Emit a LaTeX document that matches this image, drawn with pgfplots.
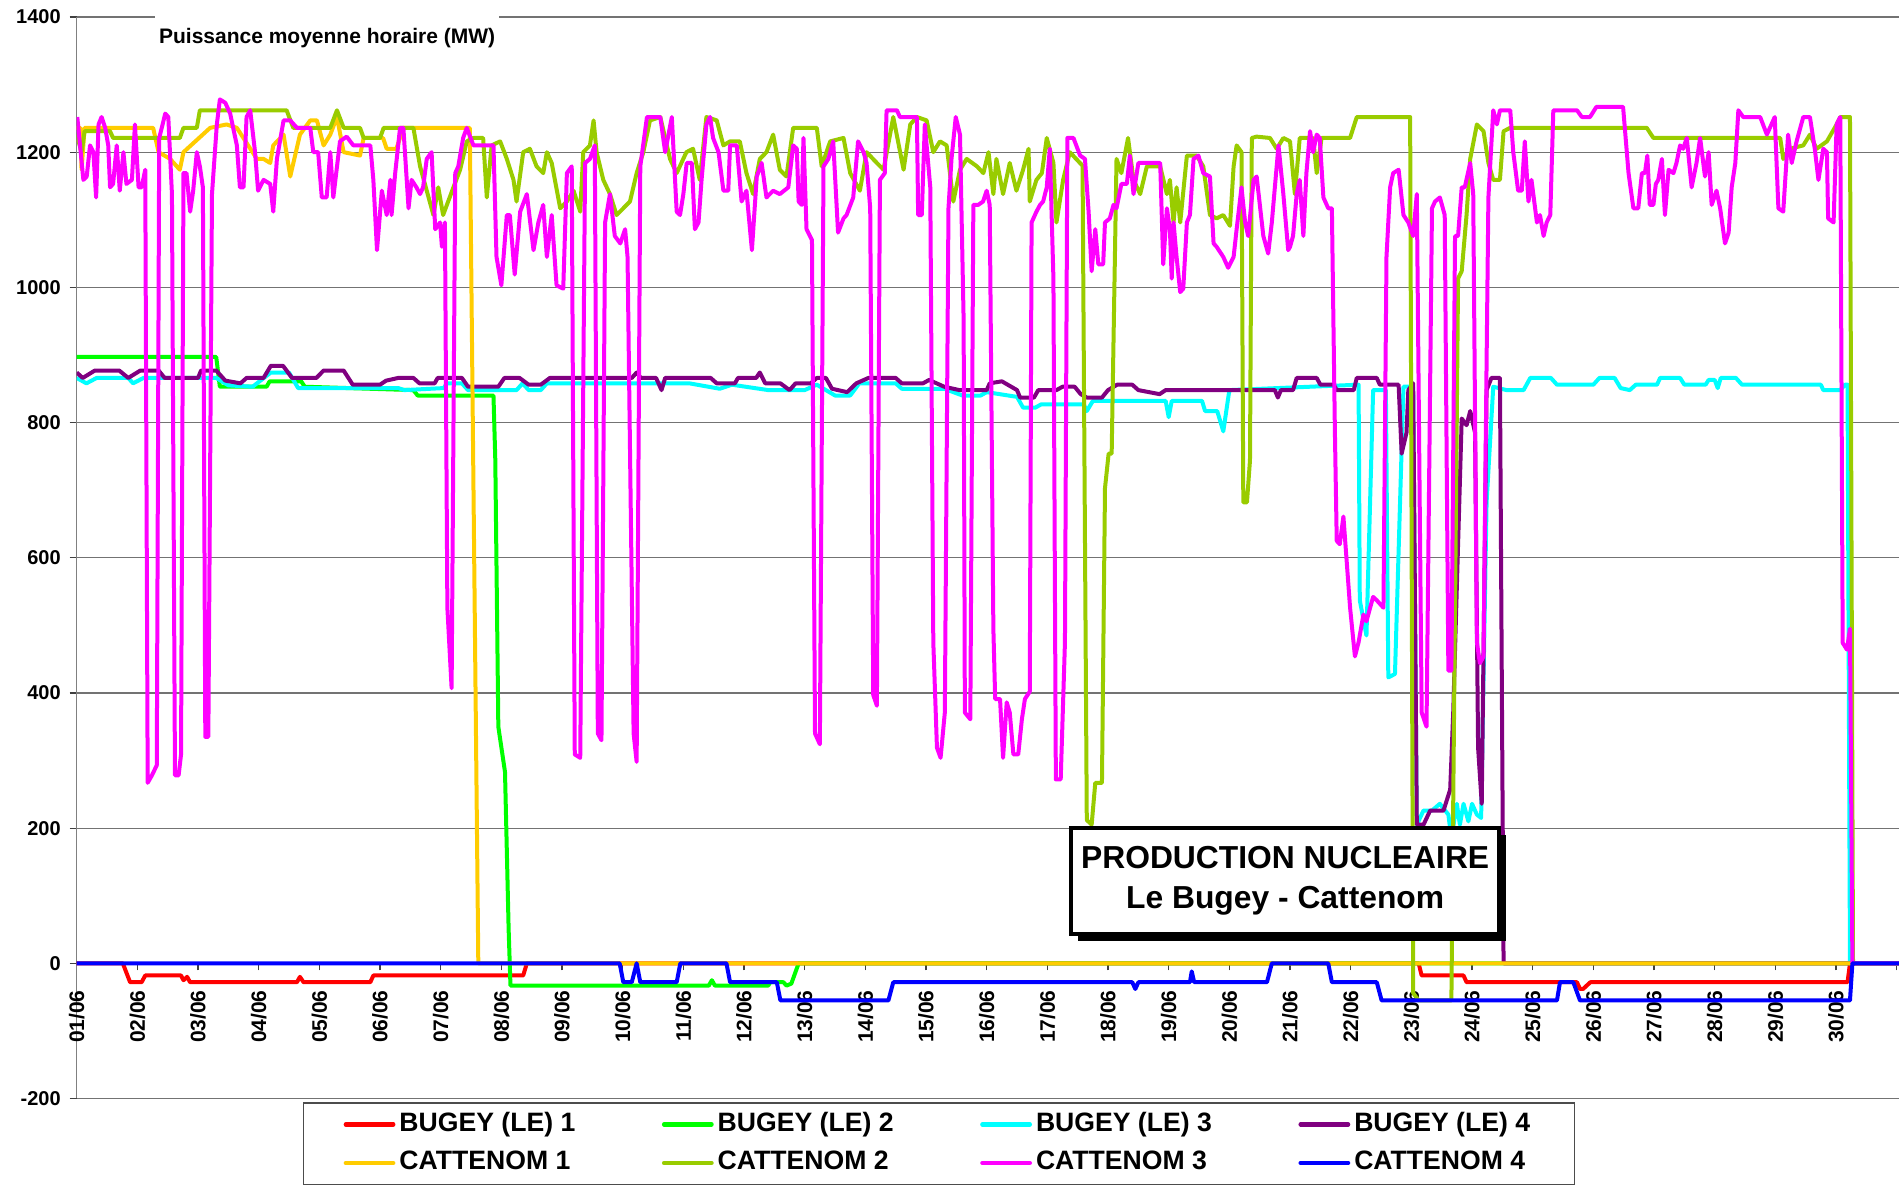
\documentclass[border=0pt]{standalone}
\usepackage{fontspec}
\setmainfont{Liberation Sans}
\usepackage{pgfplots}
\pgfplotsset{compat=1.18}
\usetikzlibrary{shadows}

\definecolor{cRed}{HTML}{FF0000}
\definecolor{cGreen}{HTML}{00FF00}
\definecolor{cCyan}{HTML}{00FFFF}
\definecolor{cPurple}{HTML}{800080}
\definecolor{cYellow}{HTML}{FFCC00}
\definecolor{cOlive}{HTML}{99CC00}
\definecolor{cMagenta}{HTML}{FF00FF}
\definecolor{cBlue}{HTML}{0000FF}

\begin{document}
\begin{tikzpicture}
\useasboundingbox (-38.35pt,-44.25pt) rectangle (911.15pt,549.25pt);
\begin{axis}[
  at={(0,0)}, anchor=south west,
  scale only axis, width=911.2pt, height=540.75pt,
  xmin=0, xmax=30.04, ymin=-200, ymax=1400,
  axis x line*=middle, axis y line*=left,
  hide obscured x ticks=false, hide obscured y ticks=false,
  clip mode=individual,
  ytick={-200,0,...,1400},
  yticklabels={-200,0,200,400,600,800,1000,1200,1400},
  xtick={0,...,30},
  xticklabels={01/06,02/06,03/06,04/06,05/06,06/06,07/06,08/06,09/06,10/06,
    11/06,12/06,13/06,14/06,15/06,16/06,17/06,18/06,19/06,20/06,
    21/06,22/06,23/06,24/06,25/06,26/06,27/06,28/06,29/06,30/06,{}},
  ymajorgrids, grid style={black!55, line width=0.6pt},
  tick align=outside, major tick length=3.5pt,
  tick style={black!75, line width=0.6pt},
  y axis line style={black!50, line width=0.8pt},
  x axis line style={black!75, line width=0.6pt},
  xticklabel shift=6.5pt,
  yticklabel shift=1pt,
  xticklabel style={rotate=90, anchor=east, font=\bfseries\fontsize{10.5}{12}\selectfont},
  yticklabel style={font=\bfseries\fontsize{10}{12}\selectfont},
  legend columns=4,
  legend cell align=left,
  legend image code/.code={\draw[#1, line width=2.2pt, line cap=round] (0pt,0pt) -- (23.7pt,0pt);},
  legend style={at={(axis description cs:0.1242,-0.0037)}, anchor=north west,
    draw=black!70, line width=0.6pt, inner xsep=20pt, inner ysep=2.5pt,
    font=\bfseries\fontsize{13.3}{15}\selectfont,
    nodes={inner sep=2pt, text height=9.5pt, text depth=2.8pt},
    row sep=3pt,
    /tikz/every even column/.append style={column sep=41.3pt}},
  every axis plot/.append style={line width=2pt, line join=round, mark=none},
]

% BUGEY (LE) 1
\addplot[cRed] coordinates {
(0,0) (0.76,0) (0.88,-28) (1.07,-28) (1.13,-18) (1.72,-18) (1.76,-25) (1.82,-20)
(1.87,-28) (3.63,-28) (3.68,-20) (3.74,-28) (4.84,-28) (4.89,-18) (7.36,-18)
(7.42,0) (22.12,0) (22.17,-18) (22.86,-18) (22.91,-28) (24.73,-28) (24.78,-38)
(24.83,-38) (24.95,-28) (29.19,-28) (29.23,0) (30.04,0)
};

% BUGEY (LE) 2
\addplot[cGreen] coordinates {
(0,897) (2.30,897) (2.36,853) (3.13,853) (3.18,861) (3.70,861) (3.76,853)
(5.55,848) (5.62,840) (6.87,840) (6.90,745) (6.95,350) (7.06,283) (7.12,50)
(7.15,-33) (10.42,-33) (10.47,-25) (10.52,-33) (11.40,-33) (11.43,-28)
(11.65,-28) (11.70,-33) (11.78,-30) (11.90,0) (30.04,0)
};

% BUGEY (LE) 3
\addplot[cCyan] coordinates {
(0,866) (0.16,858) (0.33,866) (0.85,866) (0.93,858) (1.1,866) (2.3,866) (2.5,855)
(2.9,853) (3.2,874) (3.5,874) (3.65,851) (5.3,851) (5.4,848) (6.05,851) (6.1,858)
(6.35,858) (6.45,848) (7.25,848) (7.35,858) (7.45,848) (7.65,848) (7.75,858)
(10.1,858) (10.6,850) (10.8,856) (11.4,848) (12.0,848) (12.2,856) (12.5,840)
(12.75,840) (12.9,858) (13.5,858) (13.6,850) (14.3,850) (14.6,840) (14.9,840)
(15.0,845) (15.5,838) (15.6,822) (15.8,822) (15.9,827) (16.6,827) (16.65,817)
(16.75,832) (17.95,832) (18.0,808) (18.05,832) (18.55,832) (18.6,817) (18.8,817)
(18.9,787) (19.0,848) (21.13,856) (21.15,537) (21.26,485) (21.37,848)
(21.58,848) (21.62,423) (21.73,428) (21.87,853) (22.03,853) (22.09,205)
(22.2,226) (22.34,226) (22.47,236) (22.61,220) (22.66,185) (22.75,236) (22.8,205)
(22.86,236) (22.94,210) (23.0,236) (23.08,220) (23.15,215) (23.24,682)
(23.35,853) (23.57,848) (23.85,848) (23.96,866) (24.3,866) (24.4,856) (25.0,856)
(25.1,866) (25.35,866) (25.45,851) (25.6,848) (25.7,856) (26.05,856) (26.1,866)
(26.43,866) (26.5,856) (26.85,856) (26.9,863) (27.0,863) (27.05,851) (27.1,866)
(27.35,866) (27.45,856) (28.75,856) (28.79,848) (29.07,848) (29.15,856)
(29.19,856) (29.23,0) (30.04,0)
};

% BUGEY (LE) 4
\addplot[cPurple] coordinates {
(0,874) (0.1,866) (0.3,877) (0.7,877) (0.85,866) (1.05,877) (1.35,877) (1.45,866)
(2.0,866) (2.05,877) (2.3,877) (2.45,862) (2.7,858) (2.8,866) (3.08,866)
(3.2,884) (3.4,884) (3.55,866) (3.95,866) (4.07,877) (4.4,877) (4.55,856)
(5.0,856) (5.1,862) (5.3,866) (5.55,866) (5.65,858) (5.9,858) (5.95,866)
(6.35,866) (6.45,853) (6.95,853) (7.05,866) (7.3,866) (7.45,856) (7.65,856)
(7.8,866) (9.15,866) (9.23,874) (9.3,866) (9.55,866) (9.64,848) (9.7,866)
(10.45,866) (10.55,858) (10.85,858) (10.9,866) (11.2,866) (11.26,874)
(11.35,858) (11.6,858) (11.75,848) (11.85,858) (12.1,858) (12.2,866) (12.35,866)
(12.45,850) (12.7,845) (12.85,858) (13.05,866) (13.5,866) (13.6,858) (13.95,858)
(14.05,863) (14.3,853) (14.55,848) (15.0,848) (15.05,858) (15.25,861) (15.5,848)
(15.55,837) (15.78,837) (15.85,848) (16.15,848) (16.25,853) (16.45,853)
(16.55,842) (16.65,837) (16.9,837) (17.0,848) (17.15,856) (17.4,856) (17.5,848)
(17.85,842) (17.95,848) (19.75,848) (19.8,837) (19.85,848) (20.05,848)
(20.11,866) (20.44,866) (20.5,856) (20.72,856) (20.77,848) (21.05,848)
(21.1,866) (21.43,866) (21.48,856) (21.79,856) (21.84,754) (21.92,785)
(21.95,848) (22.03,858) (22.09,205) (22.2,205) (22.31,226) (22.53,226)
(22.64,257) (22.69,371) (22.83,806) (22.91,796) (22.97,817) (23.05,785)
(23.1,319) (23.16,236) (23.24,848) (23.32,866) (23.46,866) (23.52,0) (30.04,0)
};

% CATTENOM 1
\addplot[cYellow] coordinates {
(0,1236) (0.06,1236) (0.08,1174) (0.13,1236) (1.26,1236) (1.35,1200) (1.54,1190)
(1.70,1174) (1.76,1200) (2.20,1236) (2.47,1241) (2.64,1236) (2.97,1190)
(3.08,1190) (3.19,1184) (3.24,1210) (3.41,1226) (3.52,1164) (3.68,1226)
(3.85,1247) (3.96,1247) (4.07,1210) (4.18,1226) (4.29,1252) (4.40,1200)
(4.67,1195) (4.73,1221) (5.05,1221) (5.11,1205) (5.27,1205) (5.385,1236)
(6.48,1236) (6.62,0) (30.04,0)
};

% CATTENOM 2
\addplot[cOlive] coordinates {
(0,1226) (0.08,1200) (0.13,1231) (0.55,1231) (0.60,1221) (1.70,1221) (1.76,1236)
(1.98,1236) (2.03,1262) (3.46,1262) (3.57,1236) (4.18,1236) (4.29,1262)
(4.40,1236) (4.67,1236) (4.73,1221) (5.0,1221) (5.06,1236) (5.55,1236)
(5.66,1179) (5.88,1107) (5.96,1148) (6.04,1107) (6.21,1148) (6.32,1174)
(6.43,1216) (6.54,1221) (6.70,1221) (6.76,1133) (6.84,1210) (6.98,1216)
(7.09,1190) (7.20,1159) (7.25,1127) (7.36,1200) (7.47,1205) (7.58,1179)
(7.69,1169) (7.75,1200) (7.83,1184) (7.97,1117) (8.08,1127) (8.19,1143)
(8.30,1112) (8.35,1200) (8.46,1210) (8.52,1247) (8.57,1200) (8.68,1159)
(8.79,1138) (8.90,1107) (9.01,1117) (9.12,1127) (9.23,1169) (9.34,1200)
(9.45,1247) (9.62,1252) (9.78,1190) (9.89,1169) (10.05,1200) (10.16,1205)
(10.27,1159) (10.38,1252) (10.55,1247) (10.66,1210) (10.77,1216) (10.93,1216)
(11.04,1169) (11.15,1138) (11.26,1190) (11.37,1200) (11.48,1226) (11.59,1174)
(11.70,1164) (11.81,1236) (12.20,1236) (12.28,1179) (12.42,1216) (12.64,1221)
(12.75,1169) (12.91,1143) (13.02,1200) (13.19,1184) (13.30,1174) (13.46,1252)
(13.63,1174) (13.74,1241) (13.85,1252) (14.01,1247) (14.12,1200) (14.23,1216)
(14.34,1210) (14.45,1127) (14.56,1174) (14.67,1190) (14.84,1179) (14.945,1169)
(15.03,1200) (15.11,1138) (15.16,1190) (15.27,1138) (15.38,1184) (15.49,1143)
(15.60,1174) (15.69,1205) (15.71,1127) (15.82,1159) (15.91,1169) (15.99,1221)
(16.10,1184) (16.15,1096) (16.26,1159) (16.37,1200) (16.58,1180) (16.65,212)
(16.73,205) (16.79,267) (16.90,267) (16.95,703) (17.01,754) (17.06,754)
(17.14,1190) (17.22,1169) (17.33,1221) (17.42,1159) (17.53,1138) (17.64,1179)
(17.86,1179) (17.97,1138) (18.02,1159) (18.08,1096) (18.13,1148) (18.19,1096)
(18.30,1195) (18.46,1195) (18.57,1179) (18.68,1107) (18.79,1102) (18.90,1107)
(19.01,1091) (19.07,1179) (19.12,1210) (19.20,1200) (19.23,682) (19.29,682)
(19.34,744) (19.37,1221) (19.45,1223) (19.67,1221) (19.78,1205) (19.89,1221)
(20.0,1216) (20.08,1138) (20.16,1221) (20.38,1221) (20.44,1169) (20.52,1221)
(20.99,1221) (21.10,1252) (21.98,1252) (22.03,-44) (22.12,-55) (22.66,-55)
(22.77,1013) (22.83,1024) (22.91,1107) (22.97,1190) (23.08,1241) (23.19,1231)
(23.27,1184) (23.35,1159) (23.46,1159) (23.52,1231) (23.63,1236) (25.88,1236)
(25.99,1221) (28.08,1221) (28.13,1190) (28.24,1205) (28.46,1210) (28.57,1226)
(28.68,1205) (28.85,1216) (29.01,1241) (29.07,1252) (29.23,1252) (29.28,0)
(30.04,0)
};

% CATTENOM 3
\addplot[cMagenta] coordinates {
(0.01,1252) (0.055,1210) (0.11,1159) (0.165,1164) (0.22,1210) (0.275,1200)
(0.32,1133) (0.36,1241) (0.41,1252) (0.47,1236) (0.52,1210) (0.55,1148)
(0.60,1153) (0.66,1210) (0.71,1143) (0.77,1200) (0.82,1153) (0.91,1159)
(0.96,1241) (1.02,1148) (1.07,1148) (1.13,1174) (1.17,267) (1.24,278)
(1.32,293) (1.36,1221) (1.46,1257) (1.51,1252) (1.57,1138) (1.62,278)
(1.68,278) (1.72,309) (1.76,1169) (1.81,1169) (1.87,1112) (1.92,1143)
(1.98,1200) (2.03,1179) (2.08,1148) (2.12,335) (2.17,335) (2.23,1138)
(2.31,1241) (2.36,1278) (2.45,1273) (2.53,1257) (2.64,1210) (2.69,1148)
(2.75,1148) (2.80,1252) (2.86,1262) (2.94,1200) (2.99,1143) (3.08,1159)
(3.19,1153) (3.24,1112) (3.30,1190) (3.41,1247) (3.52,1247) (3.63,1236)
(3.85,1236) (3.90,1200) (3.98,1200) (4.04,1133) (4.12,1133) (4.18,1200)
(4.23,1133) (4.34,1216) (4.45,1223) (4.56,1210) (4.84,1210) (4.89,1159)
(4.95,1055) (5.03,1143) (5.11,1107) (5.17,1159) (5.19,1107) (5.25,1169)
(5.33,1236) (5.385,1236) (5.47,1117) (5.52,1159) (5.60,1148) (5.66,1138)
(5.71,1148) (5.77,1190) (5.85,1200) (5.91,1086) (5.99,1096) (6.02,1060)
(6.07,1096) (6.11,526) (6.18,407) (6.24,1169) (6.29,1179) (6.37,1221)
(6.43,1236) (6.54,1210) (6.87,1210) (6.92,1045) (7.00,1003) (7.09,1107)
(7.14,1107) (7.22,1019) (7.31,1112) (7.42,1138) (7.53,1055) (7.61,1096)
(7.69,1122) (7.75,1045) (7.83,1107) (7.91,1003) (8.02,998) (8.08,1169)
(8.16,1179) (8.21,309) (8.30,304) (8.38,1184) (8.46,1190) (8.54,1210)
(8.59,340) (8.65,330) (8.71,1096) (8.79,1138) (8.87,1076) (8.96,1065)
(9.04,1086) (9.08,1045) (9.18,340) (9.23,298) (9.29,1179) (9.40,1252)
(9.62,1252) (9.70,1200) (9.81,1252) (9.89,1112) (9.945,1107) (10.0,1138)
(10.055,1184) (10.14,1184) (10.19,1086) (10.25,1096) (10.30,1159) (10.38,1241)
(10.44,1252) (10.49,1221) (10.58,1200) (10.66,1143) (10.74,1143) (10.77,1210)
(10.88,1210) (10.96,1127) (11.04,1143) (11.13,1055) (11.21,1164) (11.29,1184)
(11.37,1133) (11.48,1143) (11.59,1138) (11.73,1148) (11.81,1210) (11.87,1205)
(11.90,1127) (11.95,1122) (11.98,1221) (12.03,1086) (12.12,1070) (12.17,340)
(12.25,324) (12.31,1179) (12.39,1190) (12.47,1216) (12.55,1081) (12.64,1102)
(12.69,1107) (12.80,1133) (12.88,1216) (12.97,1200) (13.02,1184) (13.08,1117)
(13.13,397) (13.19,381) (13.24,1159) (13.32,1169) (13.35,1262) (13.52,1262)
(13.57,1252) (13.85,1252) (13.87,1107) (13.93,1107) (13.98,1241) (14.07,1148)
(14.12,475) (14.18,319) (14.24,304) (14.31,371) (14.37,1117) (14.42,1190)
(14.49,1252) (14.56,1226) (14.62,951) (14.64,371) (14.73,361) (14.78,1122)
(14.86,1122) (14.94,1127) (15.0,1143) (15.05,1122) (15.11,495) (15.14,391)
(15.22,391) (15.27,304) (15.33,386) (15.38,371) (15.44,309) (15.52,309)
(15.58,361) (15.63,391) (15.71,402) (15.74,1096) (15.82,1112) (15.88,1122)
(15.93,1127) (15.99,1148) (16.04,1205) (16.10,1013) (16.14,272) (16.22,272)
(16.29,475) (16.33,1221) (16.43,1221) (16.54,1195) (16.62,1190) (16.68,1112)
(16.73,1024) (16.79,1086) (16.84,1034) (16.92,1034) (16.95,1096) (17.03,1102)
(17.09,1122) (17.14,1117) (17.22,1153) (17.31,1153) (17.36,1195) (17.42,1138)
(17.50,1184) (17.58,1184) (17.86,1184) (17.91,1034) (17.97,1117) (18.02,1086)
(18.05,1013) (18.08,1096) (18.13,1045) (18.19,993) (18.24,998) (18.30,1096)
(18.35,1107) (18.41,1190) (18.49,1195) (18.57,1169) (18.68,1164) (18.74,1065)
(18.79,1060) (18.90,1045) (18.98,1029) (19.07,1045) (19.12,1086) (19.20,1148)
(19.26,1096) (19.31,1076) (19.40,1159) (19.45,1164) (19.56,1076) (19.64,1050)
(19.70,1096) (19.75,1148) (19.81,1210) (19.89,1138) (19.97,1055) (20.0,1060)
(20.05,1076) (20.11,1138) (20.16,1159) (20.22,1076) (20.27,1169) (20.33,1231)
(20.38,1200) (20.44,1226) (20.49,1221) (20.55,1133) (20.63,1117) (20.69,1117)
(20.74,785) (20.77,625) (20.82,620) (20.88,661) (20.99,526) (21.07,454)
(21.13,475) (21.21,516) (21.26,506) (21.32,526) (21.37,542) (21.43,537)
(21.54,526) (21.59,1045) (21.65,1148) (21.70,1169) (21.79,1174) (21.87,1107)
(21.95,1096) (22.03,1076) (22.09,1138) (22.17,371) (22.25,350) (22.34,1117)
(22.39,1127) (22.47,1133) (22.55,1107) (22.61,433) (22.66,433) (22.72,1076)
(22.77,1076) (22.83,1148) (22.88,1148) (22.97,1184) (23.02,1138) (23.08,475)
(23.13,444) (23.19,454) (23.24,889) (23.27,1133) (23.35,1262) (23.41,1241)
(23.46,1262) (23.63,1262) (23.68,1200) (23.76,1143) (23.82,1143) (23.87,1216)
(23.93,1127) (23.98,1159) (24.07,1096) (24.12,1107) (24.18,1076) (24.23,1096)
(24.29,1107) (24.34,1262) (24.73,1262) (24.81,1252) (24.945,1252) (25.05,1267)
(25.49,1267) (25.58,1169) (25.66,1117) (25.74,1117) (25.80,1169) (25.85,1169)
(25.89,1195) (25.93,1122) (25.99,1122) (26.03,1153) (26.07,1159) (26.13,1190)
(26.18,1107) (26.24,1174) (26.32,1169) (26.37,1184) (26.43,1210) (26.48,1205)
(26.54,1221) (26.62,1148) (26.70,1184) (26.76,1221) (26.84,1164) (26.90,1200)
(26.95,1122) (27.03,1143) (27.09,1117) (27.17,1065) (27.23,1081) (27.28,1148)
(27.34,1184) (27.39,1262) (27.47,1252) (27.75,1252) (27.86,1226) (27.91,1236)
(27.99,1252) (28.05,1117) (28.13,1112) (28.21,1226) (28.27,1184) (28.35,1216)
(28.46,1252) (28.57,1252) (28.65,1205) (28.71,1159) (28.79,1205) (28.85,1200)
(28.87,1102) (28.96,1096) (29.01,1241) (29.07,1252) (29.11,474) (29.18,464)
(29.23,495) (29.27,0) (30.04,0)
};

% CATTENOM 4
\addplot[cBlue] coordinates {
(0,0) (8.95,0) (9.01,-28) (9.15,-28) (9.23,0) (9.29,-28) (9.89,-28) (9.95,0)
(10.71,0) (10.77,-28) (11.54,-28) (11.60,-55) (13.38,-55) (13.46,-28)
(17.40,-28) (17.45,-38) (17.50,-28) (18.35,-28) (18.38,-12) (18.42,-28)
(19.62,-28) (19.70,0) (20.63,0) (20.69,-28) (21.43,-28) (21.51,-55) (24.40,-55)
(24.45,-28) (24.67,-28) (24.78,-55) (29.23,-55) (29.27,0) (30.04,0)
};

\legend{BUGEY (LE) 1, BUGEY (LE) 2, BUGEY (LE) 3, BUGEY (LE) 4,
  CATTENOM 1, CATTENOM 2, CATTENOM 3, CATTENOM 4}

\node[fill=white, inner xsep=2pt, inner ysep=6.5pt, anchor=north west,
  font=\bfseries\fontsize{10.5}{12}\selectfont]
  at (rel axis cs:0,1) [xshift=39pt, yshift=1pt] {Puissance moyenne horaire (MW)};

\node[draw=black, line width=2pt, fill=white, align=center,
  minimum width=214pt, minimum height=53pt,
  drop shadow={shadow xshift=3.5pt, shadow yshift=-3.5pt, fill=black, opacity=1},
  font=\bfseries\fontsize{15.9}{20}\selectfont]
  at (axis cs:19.92,122) {PRODUCTION NUCLEAIRE\\Le Bugey - Cattenom};
\end{axis}
\end{tikzpicture}
\end{document}
